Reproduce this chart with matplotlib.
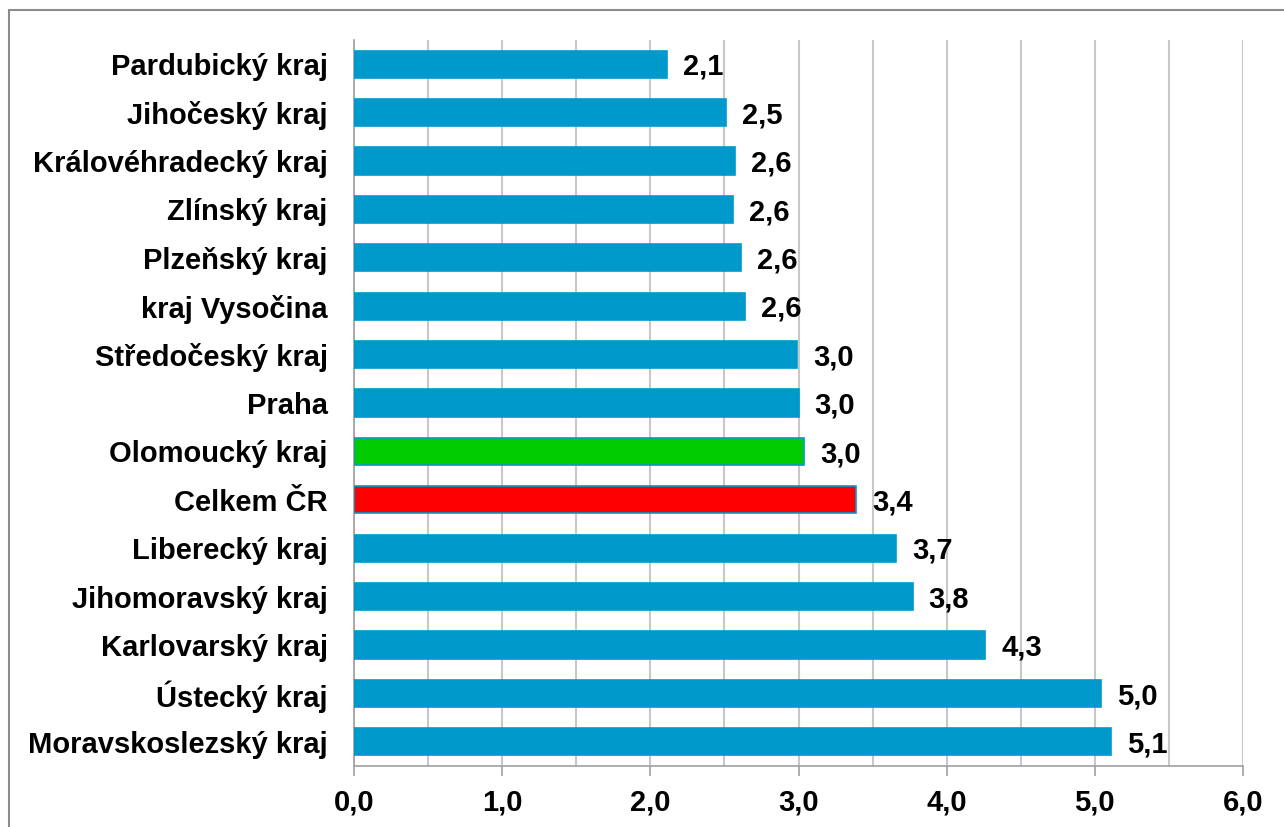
import matplotlib
matplotlib.use('Agg')
import matplotlib.pyplot as plt
from matplotlib.patches import Rectangle
from matplotlib.ticker import MultipleLocator

# data
kraje = ['Pardubický kraj', 'Jihočeský kraj', 'Královéhradecký kraj', 'Zlínský kraj',
         'Plzeňský kraj', 'kraj Vysočina', 'Středočeský kraj', 'Praha',
         'Olomoucký kraj', 'Celkem ČR', 'Liberecký kraj', 'Jihomoravský kraj',
         'Karlovarský kraj', 'Ústecký kraj', 'Moravskoslezský kraj']
hodnoty = [2.11, 2.51, 2.57, 2.56, 2.61, 2.64, 2.99, 3.00,
           3.04, 3.39, 3.66, 3.77, 4.26, 5.04, 5.11]
zvyraznit = {'Olomoucký kraj': '#00CC00', 'Celkem ČR': '#FF0000'}
modra = '#0099CC'

plt.rcParams['font.family'] = ['Liberation Sans', 'DejaVu Sans']

fig = plt.figure(figsize=(12.84, 8.27), dpi=100)
ax = fig.add_axes([354/1284, 61/827, 889/1284, 726/827])

pozice = list(range(len(kraje)))
barvy = [zvyraznit.get(k, modra) for k in kraje]
ax.barh(pozice, hodnoty, height=0.56, color=barvy, edgecolor=modra, linewidth=1.2, zorder=3)

for p, v in zip(pozice, hodnoty):
    ax.annotate(f'{v:.1f}'.replace('.', ','), xy=(v, p), xytext=(11.5, -2),
                textcoords='offset points', va='center', ha='left',
                fontsize=21, fontweight='bold', zorder=4)

ax.set_xlim(0, 6)
ax.set_ylim(len(kraje) - 0.5, -0.5)
ax.set_yticks(pozice)
ax.set_yticklabels(kraje, fontsize=21, fontweight='bold')
ax.tick_params(axis='y', length=0, pad=19)

ax.xaxis.set_major_locator(MultipleLocator(1))
ax.xaxis.set_minor_locator(MultipleLocator(0.5))
ax.set_xticklabels([f'{x:.1f}'.replace('.', ',') for x in ax.get_xticks()],
                   fontsize=21, fontweight='bold')
ax.tick_params(axis='x', which='major', length=7, width=1.2, color='#A0A0A0', pad=9, direction='out')
ax.tick_params(axis='x', which='minor', length=0)
ax.grid(axis='x', which='both', color='#C8C8C8', linewidth=1.5, zorder=0)

for s in ['top', 'right']:
    ax.spines[s].set_visible(False)
for s in ['left', 'bottom']:
    ax.spines[s].set_color('#A0A0A0')
    ax.spines[s].set_linewidth(1.2)

# ramecek kolem grafu
fig.add_artist(Rectangle((9/1284, -0.1), 2, 1 - 10/827 + 0.1, transform=fig.transFigure,
                         fill=False, edgecolor='#8C8C8C', linewidth=1.5))

fig.savefig('out.png', dpi=100)
